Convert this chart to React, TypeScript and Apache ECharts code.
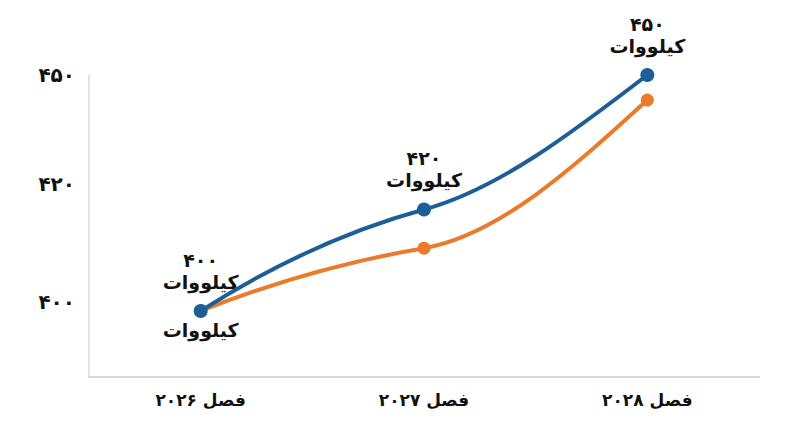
import React, { useEffect, useRef } from 'react';
import * as echarts from 'echarts';

const categories = ['فصل ۲۰۲۶', 'فصل ۲۰۲۷', 'فصل ۲۰۲۸'];
const blueValues = [400, 421.5, 450];
const orangeValues = [400, 413.3, 444.7];
const blueLabels = ['۴۰۰', '۴۲۰', '۴۵۰'];
const unitLabel = 'کیلووات';
const yTickValues = [402, 427, 450];
const yTickLabels = ['۴۰۰', '۴۲۰', '۴۵۰'];

const FONT = 'DejaVu Sans';
const BLUE = '#1d5e96';
const ORANGE = '#ea7b2c';

// smooth curve through the points (pixel space), flatter at the inner points
function curvePath(pts: number[][]) {
  const n = pts.length;
  const chord = (i: number) => (pts[i + 1][1] - pts[i][1]) / (pts[i + 1][0] - pts[i][0]);
  const m: number[] = new Array(n).fill(0);
  for (let i = 1; i < n - 1; i++) m[i] = chord(i - 1) * 0.6;
  m[0] = 2 * chord(0) - m[1];
  m[n - 1] = (3 * chord(n - 2) - m[n - 2]) / 2;
  let d = `M${pts[0][0]},${pts[0][1]}`;
  for (let i = 0; i < n - 1; i++) {
    const dx = (pts[i + 1][0] - pts[i][0]) / 3;
    d += ` C${pts[i][0] + dx},${pts[i][1] + m[i] * dx} ${pts[i + 1][0] - dx},${pts[i + 1][1] - m[i + 1] * dx} ${pts[i + 1][0]},${pts[i + 1][1]}`;
  }
  return d;
}

function curveSeries(values: number[], color: string, z: number) {
  return {
    type: 'custom',
    data: [0],
    z,
    silent: true,
    renderItem: (_params: any, api: any) => {
      const pts = values.map((v, i) => api.coord([i, v]));
      return {
        type: 'path',
        shape: { pathData: curvePath(pts) },
        style: { fill: 'none', stroke: color, lineWidth: 4 }
      };
    }
  };
}

export default function App() {
  const chartRef = useRef<HTMLDivElement>(null);

  useEffect(() => {
    if (!chartRef.current) return;
    const chart = echarts.init(chartRef.current, null, { renderer: 'svg' });

    const option = {
      animation: false,
      backgroundColor: '#ffffff',
      grid: { left: 89, right: 41, top: 75, bottom: 70 },
      xAxis: {
        type: 'category',
        data: categories,
        boundaryGap: true,
        axisLine: { lineStyle: { color: '#d9d9d9', width: 2 } },
        axisTick: { show: false },
        axisLabel: {
          color: '#111',
          fontFamily: FONT,
          fontWeight: 'bold',
          fontSize: 17,
          margin: 14
        },
        splitLine: { show: false }
      },
      yAxis: {
        type: 'value',
        min: 386,
        max: 450,
        axisLine: { show: true, lineStyle: { color: '#d9d9d9', width: 1.5 } },
        axisTick: { show: false },
        splitLine: { show: false },
        axisLabel: {
          customValues: yTickValues,
          color: '#111',
          fontFamily: FONT,
          fontWeight: 'bold',
          fontSize: 20,
          margin: 14,
          formatter: (v: number) => {
            const i = yTickValues.indexOf(v);
            return i >= 0 ? yTickLabels[i] : '';
          }
        }
      },
      series: [
        curveSeries(orangeValues, ORANGE, 1),
        curveSeries(blueValues, BLUE, 2),
        {
          name: 'orange',
          type: 'line',
          data: orangeValues.map((v, i) =>
            i === 0 ? { value: v, label: { show: true } } : v
          ),
          symbol: 'circle',
          symbolSize: 13,
          lineStyle: { width: 0, opacity: 0 },
          itemStyle: { color: ORANGE },
          label: {
            show: false,
            position: 'bottom',
            distance: 3,
            formatter: () => unitLabel,
            color: '#111',
            fontFamily: FONT,
            fontWeight: 'bold',
            fontSize: 19
          },
          z: 3
        },
        {
          name: 'blue',
          type: 'line',
          data: blueValues,
          symbol: 'circle',
          symbolSize: 14,
          lineStyle: { width: 0, opacity: 0 },
          itemStyle: { color: BLUE },
          label: {
            show: true,
            position: 'top',
            distance: 11,
            formatter: (p: any) => blueLabels[p.dataIndex] + '\n' + unitLabel,
            color: '#111',
            fontFamily: FONT,
            fontWeight: 'bold',
            fontSize: 19,
            lineHeight: 22,
            align: 'center'
          },
          z: 4
        }
      ]
    };

    chart.setOption(option);
    const onResize = () => chart.resize();
    window.addEventListener('resize', onResize);
    return () => {
      window.removeEventListener('resize', onResize);
      chart.dispose();
    };
  }, []);

  return (
    <div
      ref={chartRef}
      style={{ position: 'fixed', left: 0, top: 0, width: 800, height: 447 }}
    />
  );
}
